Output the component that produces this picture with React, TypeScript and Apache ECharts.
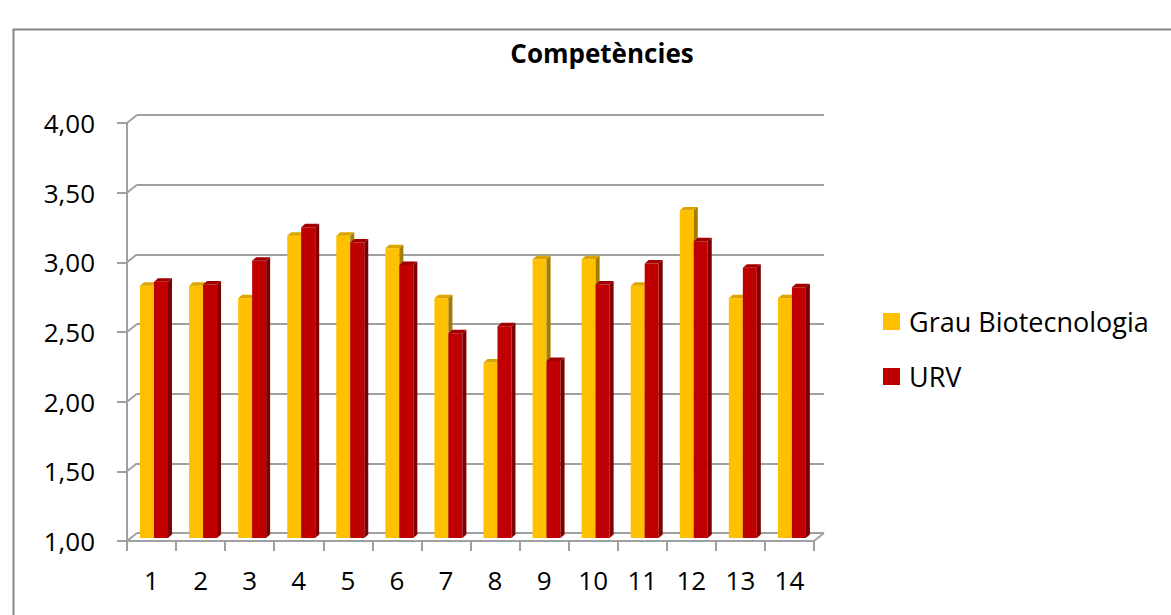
import React, { useEffect, useRef } from "react";
import * as echarts from "echarts";

const categories = ["1", "2", "3", "4", "5", "6", "7", "8", "9", "10", "11", "12", "13", "14"];
const grauValues = [2.81, 2.81, 2.72, 3.17, 3.17, 3.08, 2.72, 2.26, 3.0, 3.0, 2.81, 3.35, 2.72, 2.72];
const urvValues = [2.84, 2.82, 2.99, 3.23, 3.12, 2.96, 2.47, 2.52, 2.27, 2.82, 2.97, 3.13, 2.94, 2.8];
const yTickValues = [1, 1.5, 2, 2.5, 3, 3.5, 4];
const seriesNames = ["Grau Biotecnologia", "URV"];

const FONT = "Open Sans";
const GRID = "#A0A0A0";
const COLORS = [
  { front: "#FFC000", top: "#DDA500", side: "#A47C00" },
  { front: "#C00000", top: "#A00000", side: "#7E0000" },
];

function barRenderer(s: number) {
  return (params: any, api: any) => {
    const i = api.value(0);
    const v = api.value(1);
    const top = api.coord([i, v]);
    const base = api.coord([i, 1]);
    const band = api.size([1, 0])[0];
    const w = band * 0.285;
    const sx = band * 0.05;
    const sy = -3;
    const x0 = top[0] + (s === 0 ? -w : 0) + sx;
    const yt = top[1] + sy;
    const yb = base[1] + sy;
    const dx = 4;
    const dy = -3.5;
    const c = COLORS[s];
    return {
      type: "group",
      children: [
        { type: "rect", shape: { x: x0, y: yt, width: w, height: yb - yt }, style: { fill: c.front } },
        {
          type: "polygon",
          shape: { points: [[x0, yt], [x0 + w, yt], [x0 + w + dx, yt + dy], [x0 + dx, yt + dy]] },
          style: { fill: c.top },
        },
        {
          type: "polygon",
          shape: { points: [[x0 + w, yt], [x0 + w + dx, yt + dy], [x0 + w + dx, yb + dy], [x0 + w, yb]] },
          style: { fill: c.side },
        },
      ],
    };
  };
}

function diagRenderer(params: any, api: any) {
  const cs = params.coordSys;
  const v = api.value(1);
  const y = api.coord([0, v])[1];
  const children: any[] = [
    { type: "line", shape: { x1: cs.x - 10, y1: y + 8, x2: cs.x, y2: y }, style: { stroke: GRID, lineWidth: 2 } },
  ];
  if (v === yTickValues[0]) {
    children.push({
      type: "line",
      shape: { x1: cs.x + cs.width - 10, y1: y + 8, x2: cs.x + cs.width, y2: y },
      style: { stroke: GRID, lineWidth: 2 },
    });
  }
  return { type: "group", children };
}

export default function App() {
  const ref = useRef<HTMLDivElement>(null);
  useEffect(() => {
    if (!ref.current) return;
    const chart = echarts.init(ref.current, null, { renderer: "svg" });
    const axisText = { fontSize: 26, color: "#000", fontFamily: FONT };
    chart.setOption({
      animation: false,
      backgroundColor: "#fff",
      title: {
        text: "Competències",
        left: 597,
        textAlign: "center",
        top: 35,
        textStyle: { fontSize: 26, fontWeight: "bold", color: "#000", fontFamily: FONT },
      },
      legend: {
        orient: "vertical",
        left: 878,
        top: 303,
        itemWidth: 17,
        itemHeight: 17,
        itemGap: 28,
        icon: "rect",
        data: seriesNames,
        textStyle: { fontSize: 27, color: "#000", fontFamily: FONT, padding: [0, 0, 0, 4] },
      },
      graphic: [
        {
          type: "rect",
          left: 11,
          top: 27,
          z: -10,
          shape: { width: 1300, height: 800 },
          style: { fill: "none", stroke: "#868686", lineWidth: 2 },
        },
      ],
      grid: [
        { left: 127, right: 357, top: 123, bottom: 74 },
        { left: 137, right: 347, top: 115, bottom: 82 },
      ],
      xAxis: [
        {
          gridIndex: 0,
          type: "category",
          data: categories,
          axisLine: { show: true, lineStyle: { color: GRID, width: 2 } },
          axisTick: { show: true, length: 10, lineStyle: { color: GRID, width: 2 } },
          axisLabel: { ...axisText, margin: 26 },
          splitLine: { show: false },
        },
        { gridIndex: 1, type: "category", data: categories, show: false },
      ],
      yAxis: [
        {
          gridIndex: 0,
          type: "value",
          min: 1,
          max: 4,
          interval: 0.5,
          axisLine: { show: true, lineStyle: { color: GRID, width: 2 } },
          axisTick: { show: true, length: 10, lineStyle: { color: GRID, width: 2 } },
          axisLabel: { ...axisText, margin: 32, formatter: (v: number) => v.toFixed(2).replace(".", ",") },
          splitLine: { show: false },
        },
        {
          gridIndex: 1,
          type: "value",
          min: 1,
          max: 4,
          interval: 0.5,
          axisLine: { show: false },
          axisTick: { show: false },
          axisLabel: { show: false },
          splitLine: { show: true, lineStyle: { color: GRID, width: 2 } },
        },
      ],
      series: [
        {
          type: "custom",
          name: "diag",
          xAxisIndex: 1,
          yAxisIndex: 1,
          silent: true,
          z: 1,
          renderItem: diagRenderer,
          data: yTickValues.map((v) => [0, v]),
        },
        {
          type: "custom",
          name: seriesNames[0],
          xAxisIndex: 0,
          yAxisIndex: 0,
          itemStyle: { color: COLORS[0].front },
          renderItem: barRenderer(0),
          encode: { x: 0, y: 1 },
          data: grauValues.map((v, i) => [i, v]),
          z: 3,
        },
        {
          type: "custom",
          name: seriesNames[1],
          xAxisIndex: 0,
          yAxisIndex: 0,
          itemStyle: { color: COLORS[1].front },
          renderItem: barRenderer(1),
          encode: { x: 0, y: 1 },
          data: urvValues.map((v, i) => [i, v]),
          z: 4,
        },
      ],
    });
    return () => chart.dispose();
  }, []);
  return (
    <div
      ref={ref}
      style={{ position: "fixed", left: 0, top: 0, width: 1171, height: 615, background: "#fff" }}
    />
  );
}
